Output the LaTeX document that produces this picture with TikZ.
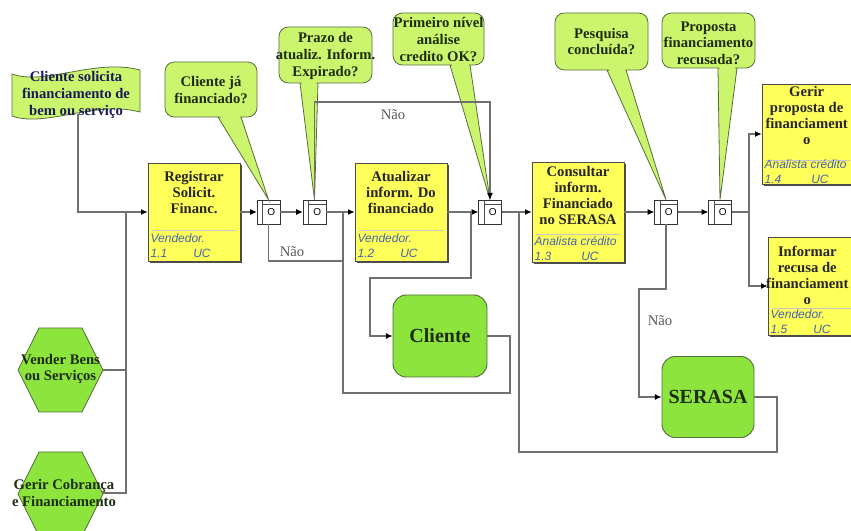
\documentclass[tikz,border=0pt]{standalone}
\usepackage{fontspec}
\setmainfont{Liberation Serif}
\setsansfont{Liberation Sans}
\usetikzlibrary{arrows.meta,shadows,calc}
\definecolor{boxyellow}{RGB}{255,255,90}
\definecolor{callgreen}{RGB}{204,245,110}
\definecolor{actgreen}{RGB}{140,228,60}
\definecolor{linegray}{RGB}{112,112,112}
\definecolor{roleblue}{RGB}{70,100,170}
\definecolor{calltxt}{RGB}{30,45,15}
\definecolor{bannavy}{RGB}{25,25,90}
\definecolor{greenborder}{RGB}{85,110,60}
\tikzset{
  conn/.style={draw=linegray, line width=0.8pt},
  arr/.style={conn, -{Latex[length=5pt,width=4.5pt,color=black]}},
  callout/.style={fill=callgreen, draw=greenborder, line width=0.6pt},
  calltext/.style={font=\fontsize{11}{12.5}\selectfont\bfseries, text=calltxt, align=center, inner sep=0pt},
  hexa/.style={fill=actgreen, draw=greenborder, line width=0.6pt},
  hextext/.style={font=\fontsize{11}{12.5}\selectfont\bfseries, text=calltxt, align=center, inner sep=0pt},
  fnbox/.style={draw=black!70, fill=boxyellow, line width=0.5pt, minimum width=69pt, inner sep=0pt,
    drop shadow={shadow xshift=1.8pt, shadow yshift=-1.8pt, fill=black!70, opacity=1}},
  boxtitle/.style={font=\fontsize{11}{12}\selectfont\bfseries, text=black!85, align=center, inner sep=0pt, anchor=north},
  boxrole/.style={font=\sffamily\itshape\fontsize{9}{11.25}\selectfont, text=roleblue, align=left, inner sep=0pt, anchor=south west},
  sepline/.style={draw=black!22, line width=0.4pt},
  actbox/.style={fill=actgreen, draw=greenborder, line width=0.7pt, rounded corners=10pt, font=\fontsize{15}{17}\selectfont\bfseries, text=calltxt, inner sep=0pt},
  gate/.style={draw=black!80, fill=white, line width=0.5pt, minimum width=17pt, minimum height=18pt, inner sep=0pt,
    font=\sffamily\fontsize{7.5}{8}\selectfont,
    path picture={
      \draw[black!70, line width=0.4pt] ([xshift=4pt]path picture bounding box.north west) -- ([xshift=4pt]path picture bounding box.south west);
      \draw[black!70, line width=0.4pt] ([xshift=4pt,yshift=-3.5pt]path picture bounding box.north west) -- ([yshift=-3.5pt]path picture bounding box.north east);
    }},
  nao/.style={font=\fontsize{11}{12}\selectfont, text=black!65, inner sep=0pt}
}
\newcommand\callbubble[7]{%
  \path[callout] (#5,#4) -- (#7) -- (#6,#4) -- cycle;
  \path[callout, rounded corners=7pt] (#1,#2) rectangle (#3,#4);
  \fill[callgreen] ($(#5,#4)!0.06!(#7) + (1.3,0)$) -- ($(#6,#4)!0.06!(#7) + (-1.3,0)$) -- (#6-1.3,#4-3) -- (#5+1.3,#4-3) -- cycle;
}
\begin{document}
\begin{tikzpicture}[x=0.75pt,y=-0.75pt]
\useasboundingbox (0,0) rectangle (851,531);
\fill[white] (0,0) rectangle (851,531);

% ---------- start event banner ----------
\path[callout] (12,74) .. controls (45,86) and (95,58) .. (140,70) -- (140,112) .. controls (95,100) and (45,128) .. (12,116) -- cycle;
\node[calltext, text=bannavy] (ban) at (76,95) {Cliente solicita\\financiamento de\\bem ou serviço};
\coordinate (banb) at (78,114);

% ---------- hexagons ----------
\path[hexa] (18,370) -- (39,328) -- (82,328) -- (103,370) -- (82,412) -- (39,412) -- cycle;
\node[hextext] (h1) at (60.5,369) {Vender Bens\\ou Serviços};
\coordinate (h1e) at (103,370);
\path[hexa] (18,494) -- (39,452) -- (82,452) -- (103,494) -- (82,536) -- (39,536) -- cycle;
\node[hextext] (h2) at (64,493) {Gerir Cobrança\\e Financiamento};
\coordinate (h2e) at (102,493);

% ---------- function boxes ----------
\node[fnbox, minimum height=73.5pt] (r1) at (194,212) {};
\node[boxtitle] (r1t) at ([yshift=-6pt]r1.north) {Registrar\\Solicit.\\Financ.};
\draw[sepline] ([xshift=3pt,yshift=23pt]r1.south west) -- ([xshift=-3pt,yshift=23pt]r1.south east);
\node[boxrole] (r1r) at ([xshift=2pt,yshift=2.5pt]r1.south west) {Vendedor.\\\makebox[32pt][l]{1.1}UC};

\node[fnbox, minimum height=73.5pt] (r2) at (401,212) {};
\node[boxtitle] (r2t) at ([yshift=-6pt]r2.north) {Atualizar\\inform. Do\\financiado};
\draw[sepline] ([xshift=3pt,yshift=23pt]r2.south west) -- ([xshift=-3pt,yshift=23pt]r2.south east);
\node[boxrole] (r2r) at ([xshift=2pt,yshift=2.5pt]r2.south west) {Vendedor.\\\makebox[32pt][l]{1.2}UC};

\node[fnbox, minimum height=75pt] (r3) at (578,212) {};
\node[boxtitle] (r3t) at ([yshift=-3pt]r3.north) {Consultar\\inform.\\Financiado\\no SERASA};
\draw[sepline] ([xshift=3pt,yshift=21pt]r3.south west) -- ([xshift=-3pt,yshift=21pt]r3.south east);
\node[boxrole] (r3r) at ([xshift=2pt,yshift=1pt]r3.south west) {Analista crédito\\\makebox[35pt][l]{1.3}UC};

\node[fnbox, minimum height=75pt] (r4) at (808,134) {};
\node[boxtitle] (r4t) at ([xshift=-1pt,yshift=-2pt]r4.north) {Gerir\\proposta de\\financiament\\o};
\draw[sepline] ([xshift=3pt,yshift=18pt]r4.south west) -- ([xshift=-3pt,yshift=18pt]r4.south east);
\node[boxrole] (r4r) at ([xshift=2pt,yshift=0.5pt]r4.south west) {Analista crédito\\\makebox[35pt][l]{1.4}UC};

\node[fnbox, minimum height=73.5pt] (r5) at (814,286) {};
\node[boxtitle] (r5t) at ([xshift=-5pt,yshift=-7pt]r5.north) {Informar\\recusa de\\financiament\\o};
\draw[sepline] ([xshift=3pt,yshift=20pt]r5.south west) -- ([xshift=-3pt,yshift=20pt]r5.south east);
\node[boxrole] (r5r) at ([xshift=2pt,yshift=1pt]r5.south west) {Vendedor.\\\makebox[32pt][l]{1.5}UC};

% ---------- Cliente / SERASA ----------
\node[actbox, minimum width=70.5pt, minimum height=61.5pt] (cl) at (440,336) {Cliente};
\node[actbox, minimum width=69pt, minimum height=60.75pt] (se) at (708,397) {SERASA};

% ---------- gates ----------
\node[gate] (g1) at (268.5,212) {\hspace*{4pt}O};
\node[gate] (g2) at (314.5,212) {\hspace*{4pt}O};
\node[gate] (g3) at (490,212) {\hspace*{4pt}O};
\node[gate] (g4) at (666,212) {\hspace*{4pt}O};
\node[gate] (g5) at (720,212) {\hspace*{4pt}O};

% ---------- callouts ----------
\callbubble{165}{62}{257}{117}{218}{241}{g1.north}
\node[calltext] (c1) at (211,90) {Cliente já\\financiado?};
\callbubble{279}{27}{372}{83}{300}{318}{g2.north}
\node[calltext] (c2) at (325.5,56) {Prazo de\\atualiz. Inform.\\Expirado?};
\callbubble{393}{13}{484}{65}{450}{470}{g3.north}
\node[calltext] (c3) at (438.5,39.5) {Primeiro nível\\análise\\credito OK?};
\callbubble{555}{13}{648}{70}{607}{626}{g4.north}
\node[calltext] (c4) at (601.5,41.5) {Pesquisa\\concluída?};
\callbubble{662}{13}{755}{68}{718}{737}{g5.north}
\node[calltext] (c5) at (708.5,43) {Proposta\\financiamento\\recusada?};

% ---------- junction coordinates ----------
\coordinate (j0) at (126,212);
\coordinate (j1) at (343,212);
\coordinate (j2) at (471,212);
\coordinate (j3) at (519,212);
\coordinate (j5) at (749,212);

% ---------- connectors ----------
\draw[arr] (banb) |- (r1.west);
\draw[conn] (h1e) -- (h1e -| j0);
\draw[conn] (h2e) -| (j0);
\draw[arr] (r1.east) -- (g1.west);
\draw[arr] (g1.east) -- (g2.west);
\draw[arr] (g2.east) -- (r2.west);
\draw[conn] (g1.south) |- (343,261) -- (j1);
\node[nao] (n1) at (292,252) {Não};
\draw[conn] (cl.east) -| (510,393) -| (j1);
\draw[arr] (r2.east) -- (g3.west);
\draw[arr] (j2) |- (370,278) |- (cl.west);
\draw[arr] (g2.north) |- (402,102) -| (g3.north);
\node[nao] (n2) at (393,115) {Não};
\draw[arr] (g3.east) -- (r3.west);
\draw[conn] (se.east) -| (777,452) -| (j3);
\draw[arr] (r3.east) -- (g4.west);
\draw[arr] (g4.east) -- (g5.west);
\draw[arr] (g4.south) |- (639,289) |- (se.west);
\node[nao] (n3) at (660,321) {Não};
\draw[conn] (g5.east) -- (j5);
\draw[arr] (j5) |- (r4.west);
\draw[arr] (j5) |- (r5.west);
\end{tikzpicture}
\end{document}
